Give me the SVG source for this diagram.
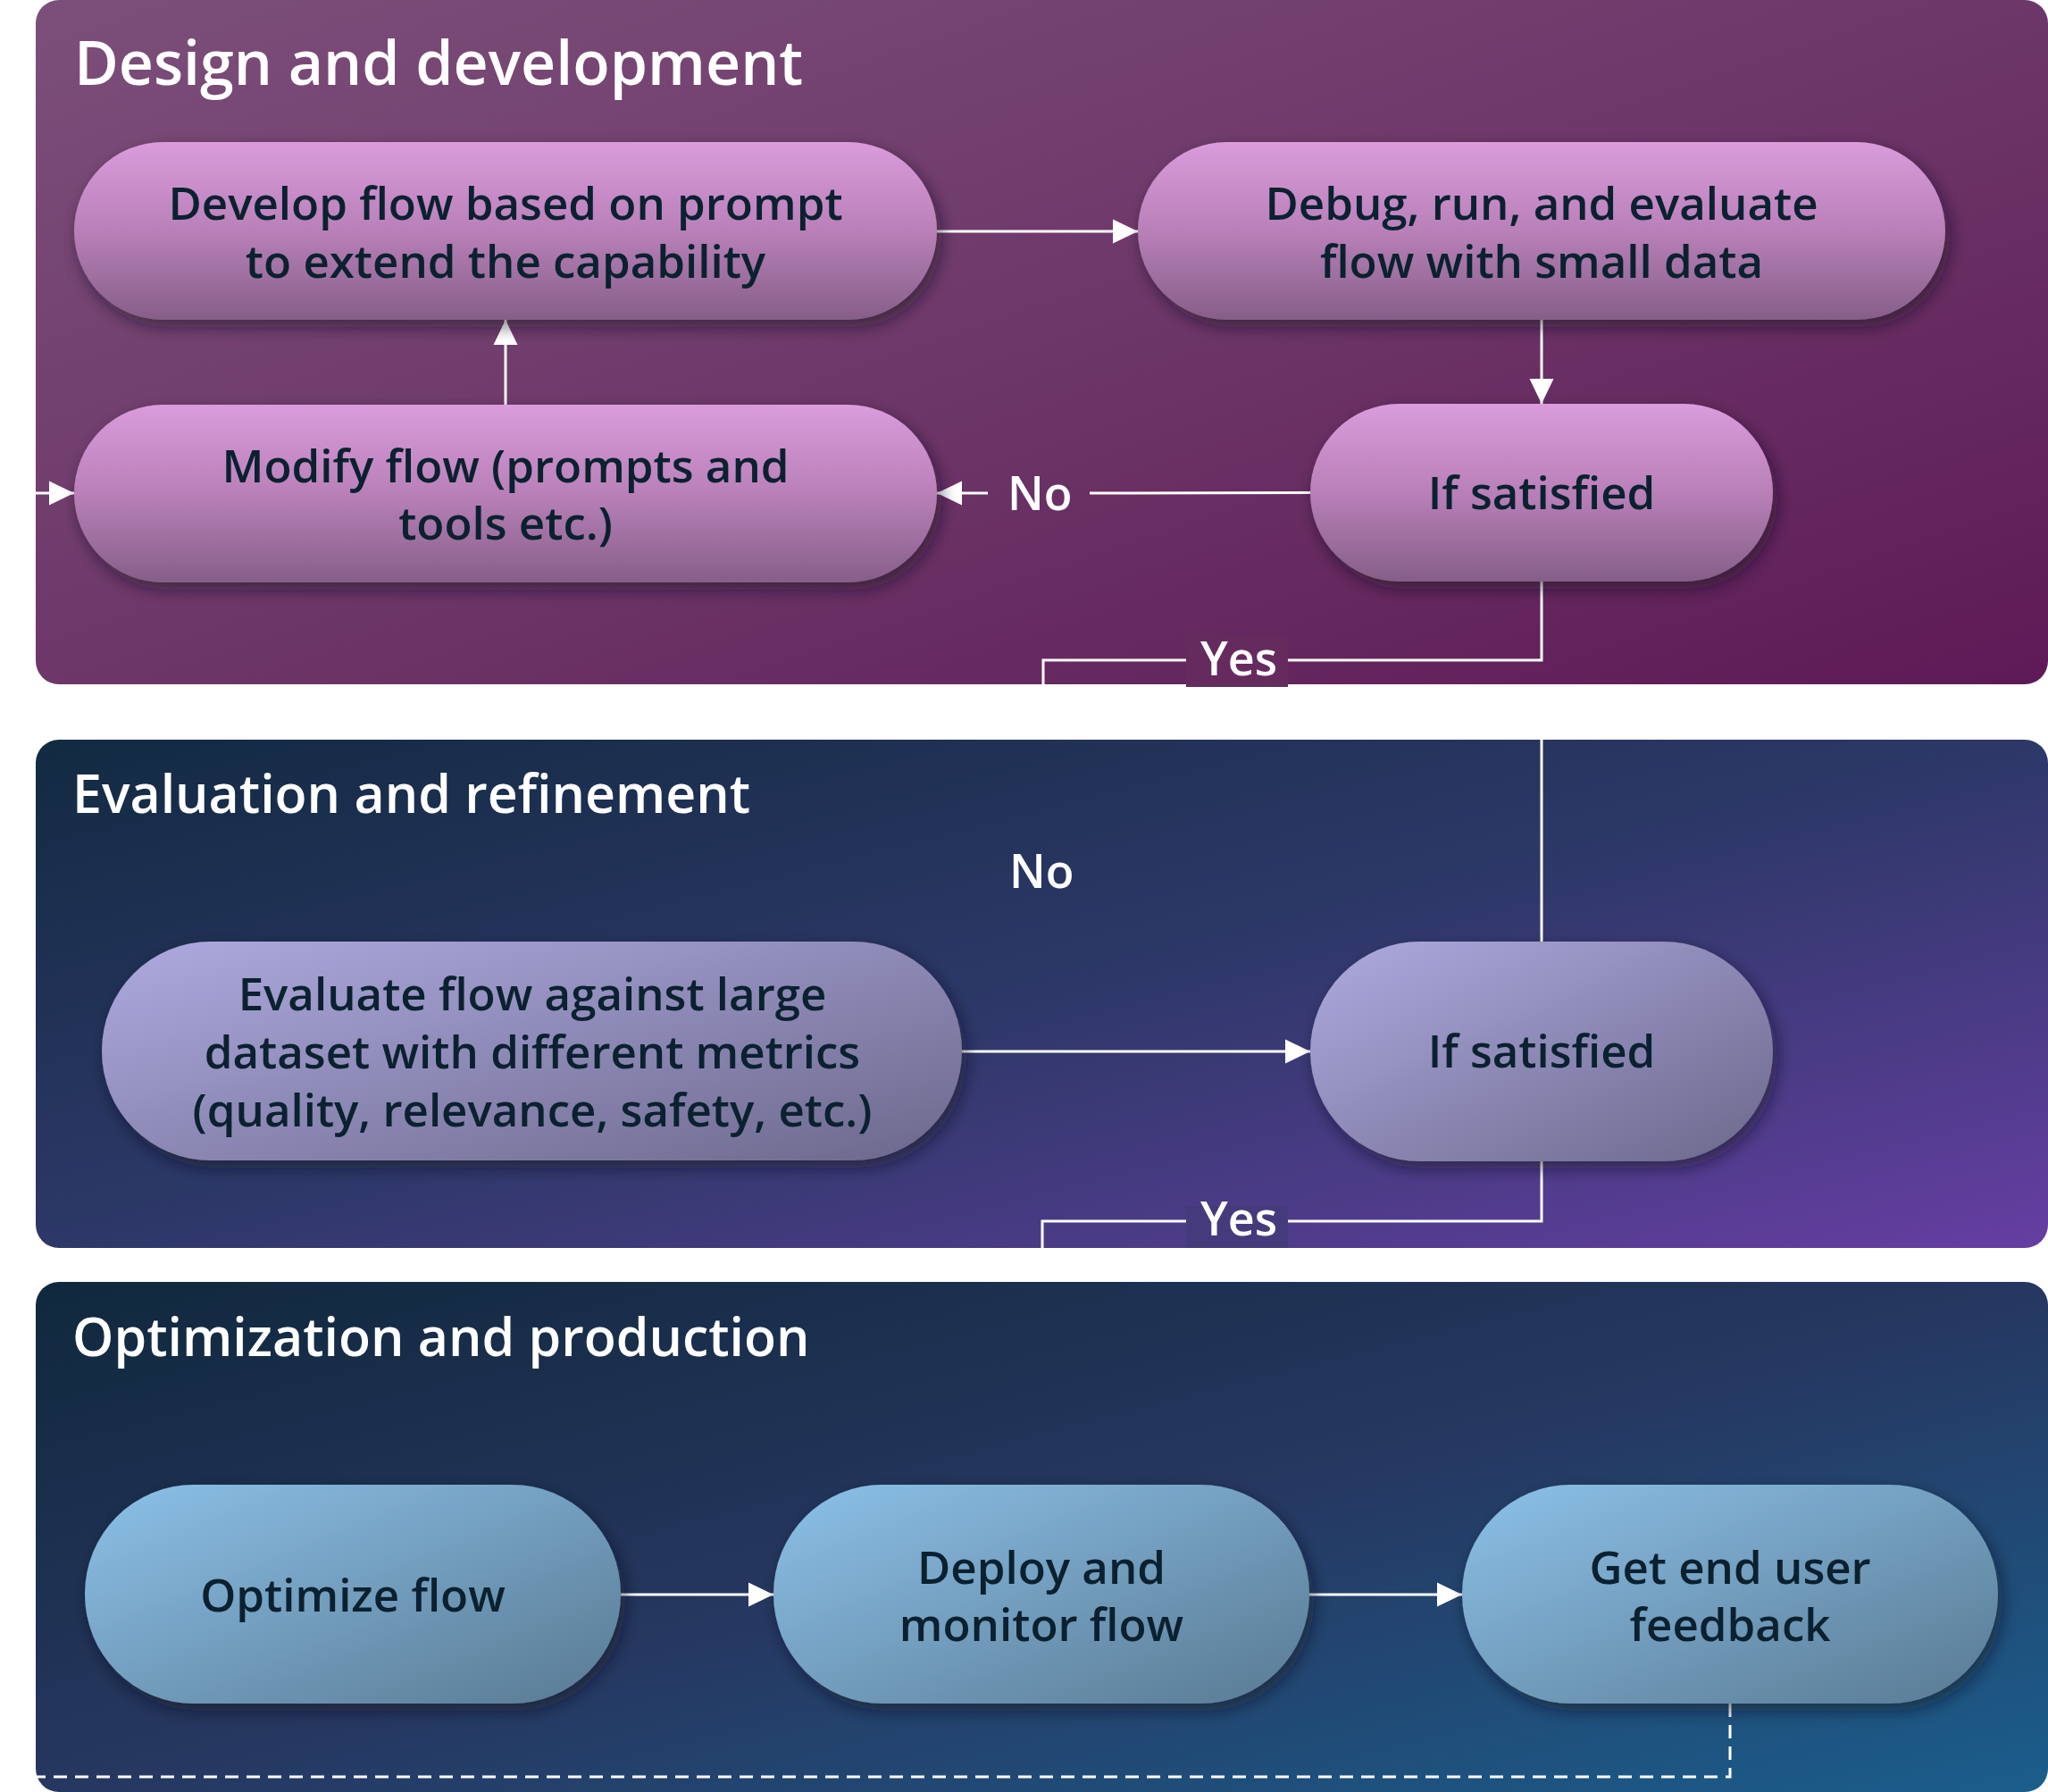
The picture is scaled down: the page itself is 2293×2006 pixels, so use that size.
<svg xmlns="http://www.w3.org/2000/svg" width="2293" height="2006" viewBox="0 0 2293 2006">
<defs>
<style>
.title{font-family:"Segoe UI","Open Sans","Noto Sans",sans-serif;fill:#ffffff;font-size:59px;font-weight:600}
.ntext{font-family:"Segoe UI","Open Sans","Noto Sans",sans-serif;fill:#0b2130;font-size:51px;font-weight:600;text-anchor:middle}
.lbl{font-family:"Segoe UI","Open Sans","Noto Sans",sans-serif;fill:#ffffff;font-size:52px;font-weight:600}
.conn{stroke:#ffffff;stroke-width:3;fill:none}
.dash{stroke:#ffffff;stroke-width:3;fill:none;stroke-dasharray:15 9}
</style>
<linearGradient id="p1" x1="0" y1="0" x2="1" y2="1">
<stop offset="0" stop-color="#7c4f7a"/><stop offset="0.5" stop-color="#6d3769"/><stop offset="1" stop-color="#5e1a56"/>
</linearGradient>
<linearGradient id="p2" x1="0" y1="0" x2="1" y2="1">
<stop offset="0" stop-color="#122a42"/><stop offset="0.5" stop-color="#2d3868"/><stop offset="1" stop-color="#663ea2"/>
</linearGradient>
<linearGradient id="p3" x1="0" y1="0" x2="1" y2="1">
<stop offset="0" stop-color="#10283d"/><stop offset="0.5" stop-color="#263760"/><stop offset="1" stop-color="#1b5e8c"/>
</linearGradient>
<linearGradient id="n1" x1="0" y1="0" x2="0" y2="1">
<stop offset="0" stop-color="#da9cdc"/><stop offset="0.5" stop-color="#b980b8"/><stop offset="1" stop-color="#855f88"/>
</linearGradient>
<linearGradient id="n2" x1="0" y1="0" x2="1" y2="1">
<stop offset="0" stop-color="#aeaae0"/><stop offset="1" stop-color="#6c688b"/>
</linearGradient>
<linearGradient id="n3" x1="0" y1="0" x2="1" y2="1">
<stop offset="0" stop-color="#8cc1e8"/><stop offset="1" stop-color="#597a93"/>
</linearGradient>
<filter id="sh" x="-10%" y="-20%" width="125%" height="150%">
<feDropShadow dx="5" dy="8" stdDeviation="9" flood-color="#12081a" flood-opacity="0.55"/>
</filter>
<marker id="arr" markerUnits="userSpaceOnUse" markerWidth="28" markerHeight="28" refX="28" refY="14" orient="auto">
<path d="M0,0.5 L28,14 L0,27.5 Z" fill="#ffffff"/>
</marker>
</defs>

<rect width="2293" height="2006" fill="#ffffff"/>

<g id="panels">
<rect id="panel-design" x="40" y="0" width="2253" height="766" rx="26" fill="url(#p1)"/>
<rect id="panel-eval" x="40" y="828" width="2253" height="569" rx="26" fill="url(#p2)"/>
<rect id="panel-opt" x="40" y="1435" width="2253" height="571" rx="26" fill="url(#p3)"/>
<text class="title" x="83" y="95" style="font-size:68px">Design and development</text>
<text class="title" x="81" y="910">Evaluation and refinement</text>
<text class="title" x="81" y="1518">Optimization and production</text>
</g>

<g id="connectors">
<line class="conn" x1="1049" y1="259" x2="1274" y2="259" marker-end="url(#arr)"/>
<line class="conn" x1="1726" y1="358" x2="1726" y2="452" marker-end="url(#arr)"/>
<line class="conn" x1="566" y1="453" x2="566" y2="358" marker-end="url(#arr)"/>
<line class="conn" x1="1467" y1="551.5" x2="1220" y2="552"/>
<line class="conn" x1="1106" y1="552" x2="1049" y2="552" marker-end="url(#arr)"/>
<line class="conn" x1="40" y1="552" x2="83" y2="552" marker-end="url(#arr)"/>
<polyline class="conn" points="1726,651 1726,739 1442,739"/>
<polyline class="conn" points="1328,739 1168,739 1168,766"/>
<line class="conn" x1="1726" y1="828" x2="1726" y2="1054"/>
<line class="conn" x1="1077" y1="1177" x2="1467" y2="1177" marker-end="url(#arr)"/>
<polyline class="conn" points="1726,1300 1726,1367 1442,1367"/>
<polyline class="conn" points="1328,1367 1167,1367 1167,1397"/>
<line class="conn" x1="695" y1="1785" x2="866" y2="1785" marker-end="url(#arr)"/>
<line class="conn" x1="1466" y1="1785" x2="1637" y2="1785" marker-end="url(#arr)"/>
<polyline class="dash" points="1937,1907 1937,1989 40,1989"/>
<text class="lbl" x="1128" y="571">No</text>
<rect x="1328" y="712" width="114" height="57" fill="#652b5f"/>
<text class="lbl" x="1344" y="756">Yes</text>
<text class="lbl" x="1130" y="994">No</text>
<rect x="1328" y="1350" width="114" height="47" fill="#453b7c"/>
<text class="lbl" x="1344" y="1383">Yes</text>
</g>

<g id="node-develop">
<rect x="83" y="159" width="966" height="199" rx="99.5" fill="url(#n1)" filter="url(#sh)"/>
<text class="ntext" x="566" y="246">Develop flow based on prompt</text>
<text class="ntext" x="566" y="311">to extend the capability</text>
</g>
<g id="node-debug">
<rect x="1274" y="159" width="904" height="199" rx="99.5" fill="url(#n1)" filter="url(#sh)"/>
<text class="ntext" x="1726" y="246">Debug, run, and evaluate</text>
<text class="ntext" x="1726" y="311">flow with small data</text>
</g>
<g id="node-modify">
<rect x="83" y="453" width="966" height="199" rx="99.5" fill="url(#n1)" filter="url(#sh)"/>
<text class="ntext" x="566" y="540">Modify flow (prompts and</text>
<text class="ntext" x="566" y="604">tools etc.)</text>
</g>
<g id="node-satisfied-1">
<rect x="1467" y="452" width="518" height="199" rx="99.5" fill="url(#n1)" filter="url(#sh)"/>
<text class="ntext" x="1726" y="570">If satisfied</text>
</g>
<g id="node-evaluate">
<rect x="114" y="1054" width="963" height="245" rx="122" fill="url(#n2)" filter="url(#sh)"/>
<text class="ntext" x="596" y="1131">Evaluate flow against large</text>
<text class="ntext" x="596" y="1196">dataset with different metrics</text>
<text class="ntext" x="596" y="1261">(quality, relevance, safety, etc.)</text>
</g>
<g id="node-satisfied-2">
<rect x="1467" y="1054" width="518" height="246" rx="123" fill="url(#n2)" filter="url(#sh)"/>
<text class="ntext" x="1726" y="1195">If satisfied</text>
</g>
<g id="node-optimize">
<rect x="95" y="1662" width="600" height="245" rx="122" fill="url(#n3)" filter="url(#sh)"/>
<text class="ntext" x="395" y="1804">Optimize flow</text>
</g>
<g id="node-deploy">
<rect x="866" y="1662" width="600" height="245" rx="122" fill="url(#n3)" filter="url(#sh)"/>
<text class="ntext" x="1166" y="1773">Deploy and</text>
<text class="ntext" x="1166" y="1837">monitor flow</text>
</g>
<g id="node-feedback">
<rect x="1637" y="1662" width="600" height="245" rx="122" fill="url(#n3)" filter="url(#sh)"/>
<text class="ntext" x="1937" y="1773">Get end user</text>
<text class="ntext" x="1937" y="1837">feedback</text>
</g>
</svg>
